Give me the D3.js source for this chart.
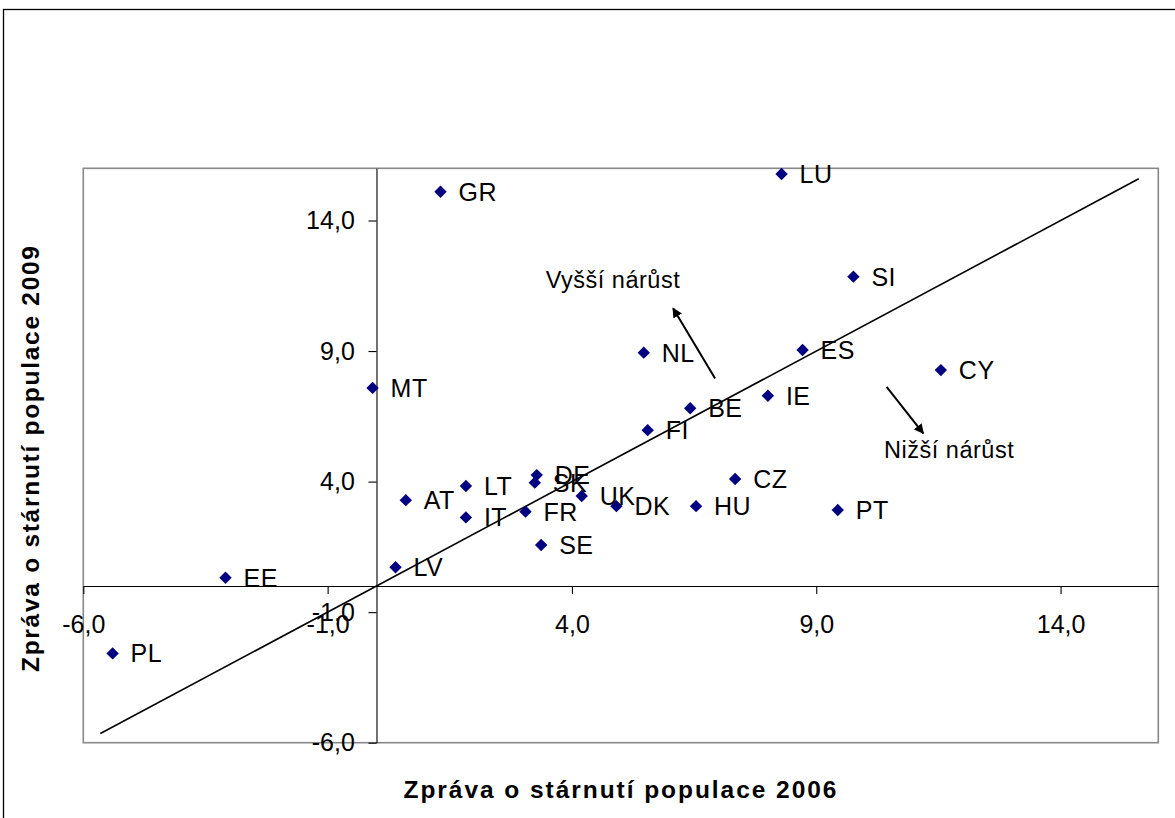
<!DOCTYPE html>
<html>
<head>
<meta charset="utf-8">
<script src="https://cdn.jsdelivr.net/npm/d3@7"></script>
<style>
  body { margin: 0; background: #fff; }
  text { font-family: Arial, "Liberation Sans", sans-serif; }
</style>
</head>
<body>
<div id="chart-area"></div>
<script>
// countries and their values in the two reports
var countries = ["GR", "LU", "SI", "ES", "CY", "NL", "MT", "BE", "IE", "FI", "CZ", "AT", "LT",
  "IT", "DE", "SK", "FR", "SE", "UK", "DK", "HU", "LV", "PT", "EE", "PL"];
var report2006 = [1.31, 8.29, 9.76, 8.72, 11.55, 5.47, -0.08, 6.42, 8.01, 5.55, 7.34, 0.60, 1.83,
  1.83, 3.28, 3.24, 3.05, 3.37, 4.20, 4.91, 6.54, 0.39, 9.44, -3.09, -5.40];
var report2009 = [15.10, 15.78, 11.85, 9.04, 8.27, 8.94, 7.59, 6.81, 7.29, 5.97, 4.10, 3.29, 3.83,
  2.63, 4.25, 3.96, 2.85, 1.57, 3.45, 3.06, 3.06, 0.72, 2.91, 0.32, -2.58];

var tickValues = [-6, -1, 4, 9, 14];
var diagonal = [-5.65, 15.6];

var notes = ["Vyšší nárůst", "Nižší nárůst"];
var noteX = [4.84, 11.72];
var noteY = [11.41, 4.89];
var arrowFrom = [[6.93, 7.95], [10.44, 7.63]];
var arrowTo = [[6.07, 10.64], [11.19, 5.85]];

var dataset = countries.map((c, i) => ({ country: c, x: report2006[i], y: report2009[i] }));

var width = 1175, height = 818;
var plotLeft = 83.3, plotRight = 1158.3, plotTop = 168.3, plotBottom = 742.7;

var svg = d3.select("#chart-area")
  .append("svg")
  .attr("width", width)
  .attr("height", height);

var x = d3.scaleLinear().domain([-6, 16]).range([plotLeft, plotRight]);
var y = d3.scaleLinear().domain([-6, 16]).range([plotBottom, plotTop]);

var fmt = (d) => d.toFixed(1).replace(".", ",");

// outer frame
svg.append("rect")
  .attr("x", 3.5).attr("y", 9.5)
  .attr("width", 1300).attr("height", 900)
  .attr("fill", "none").attr("stroke", "#000").attr("stroke-width", 1.3);

// plot area
svg.append("rect")
  .attr("x", plotLeft).attr("y", plotTop)
  .attr("width", plotRight - plotLeft).attr("height", plotBottom - plotTop)
  .attr("fill", "#fff").attr("stroke", "#888").attr("stroke-width", 1.6);

var xAxis = svg.append("g")
  .attr("transform", `translate(0,${y(0)})`)
  .call(d3.axisBottom(x).tickValues(tickValues).tickFormat(fmt)
    .tickSizeInner(8).tickSizeOuter(0).tickPadding(21));

var yAxis = svg.append("g")
  .attr("transform", `translate(${x(0)},0)`)
  .call(d3.axisLeft(y).tickValues(tickValues).tickFormat(fmt)
    .tickSizeInner(8).tickSizeOuter(0).tickPadding(13.7));

[xAxis, yAxis].forEach((g) => {
  g.selectAll("path, line").attr("stroke", "#000").attr("stroke-width", 1.1);
  g.selectAll("text")
    .attr("fill", "#000")
    .style("font-family", "Arial, 'Liberation Sans', sans-serif")
    .style("font-size", "25px");
});

// y = x line
svg.append("line")
  .attr("x1", x(diagonal[0])).attr("y1", y(diagonal[0]))
  .attr("x2", x(diagonal[1])).attr("y2", y(diagonal[1]))
  .attr("stroke", "#000").attr("stroke-width", 1.6);

svg.selectAll("path.point")
  .data(dataset)
  .enter()
  .append("path")
  .attr("class", "point")
  .attr("d", d3.symbol().type(d3.symbolDiamond2).size(98))
  .attr("transform", (d) => `translate(${x(d.x)},${y(d.y)})`)
  .attr("fill", "#000080");

svg.selectAll("text.label")
  .data(dataset)
  .enter()
  .append("text")
  .attr("class", "label")
  .attr("x", (d) => x(d.x) + 18)
  .attr("y", (d) => y(d.y) + 9)
  .attr("font-size", 25)
  .attr("letter-spacing", 0.5)
  .text((d) => d.country);

// annotations
svg.append("defs").append("marker")
  .attr("id", "head")
  .attr("viewBox", "0 0 10 10")
  .attr("refX", 9).attr("refY", 5)
  .attr("markerWidth", 5).attr("markerHeight", 5)
  .attr("orient", "auto")
  .append("path")
  .attr("d", "M0,0L10,5L0,10Z")
  .attr("fill", "#000");

arrowFrom.forEach((p, i) => {
  svg.append("line")
    .attr("x1", x(p[0])).attr("y1", y(p[1]))
    .attr("x2", x(arrowTo[i][0])).attr("y2", y(arrowTo[i][1]))
    .attr("stroke", "#000").attr("stroke-width", 2)
    .attr("marker-end", "url(#head)");
});

notes.forEach((t, i) => {
  svg.append("text")
    .attr("x", x(noteX[i])).attr("y", y(noteY[i]))
    .attr("text-anchor", "middle")
    .attr("font-size", 23.5)
    .attr("letter-spacing", 0.5)
    .text(t);
});

// axis titles
svg.append("text")
  .attr("x", 620).attr("y", 797.5)
  .attr("text-anchor", "middle")
  .attr("font-size", 24.5)
  .attr("font-weight", "bold")
  .attr("textLength", 433)
  .attr("lengthAdjust", "spacing")
  .text("Zpráva o stárnutí populace 2006");

svg.append("text")
  .attr("transform", "translate(38.5,459) rotate(-90)")
  .attr("text-anchor", "middle")
  .attr("font-size", 24.5)
  .attr("font-weight", "bold")
  .attr("textLength", 426)
  .attr("lengthAdjust", "spacing")
  .text("Zpráva o stárnutí populace 2009");
</script>
</body>
</html>
